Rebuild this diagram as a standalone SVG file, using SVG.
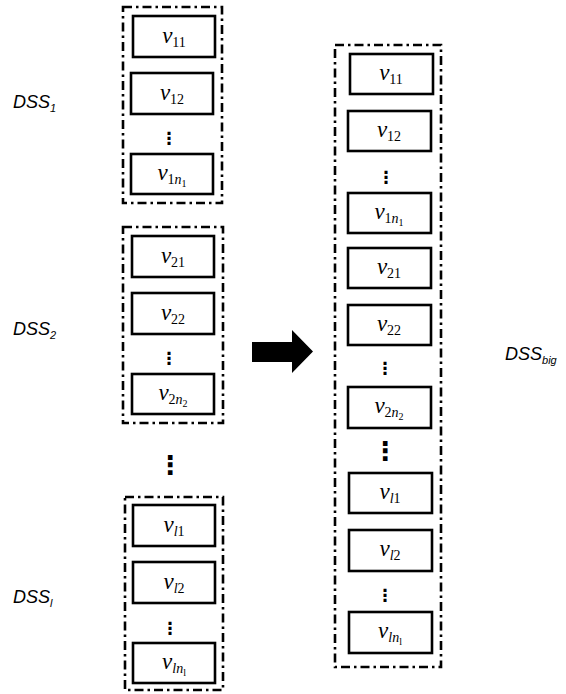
<svg xmlns="http://www.w3.org/2000/svg" width="566" height="694" viewBox="0 0 566 694">
<style>
.grp{fill:none;stroke:#000;stroke-width:2.6;stroke-dasharray:9 4 2.5 4}
.box{fill:#fff;stroke:#000;stroke-width:2.6}
.v{font-family:"Liberation Serif","DejaVu Serif",serif;font-style:italic;font-size:23px;fill:#000;text-anchor:middle}
.s{font-style:normal;font-size:14px}
.si{font-style:italic;font-size:14px}
.ss{font-style:normal;font-size:10px}
.lbl{font-family:"Liberation Sans",Arial,sans-serif;font-style:italic;font-size:18px;fill:#000}
.sub{font-size:11px}
.dots{font-family:"DejaVu Sans",sans-serif;font-size:17px;font-weight:bold;fill:#000;text-anchor:middle}
.bdots{font-family:"DejaVu Sans",sans-serif;font-size:26px;font-weight:bold;fill:#000;text-anchor:middle}
</style>
<rect width="566" height="694" fill="#fff"/>
<g id="dss1">
<rect class="grp" x="123" y="7" width="99" height="196"/>
<text class="lbl" x="13" y="108">DSS<tspan class="sub" dy="4">1</tspan></text>
<g id="g1v11"><rect class="box" x="133" y="16" width="82" height="41"/><text class="v" x="174" y="43">v<tspan class="s" dy="4">11</tspan></text></g>
<g id="g1v12"><rect class="box" x="131" y="73" width="82" height="41"/><text class="v" x="172" y="100">v<tspan class="s" dy="4">12</tspan></text></g>
<text class="dots" x="169" y="144">⋮</text>
<g id="g1v1n"><rect class="box" x="131" y="154" width="82" height="40"/><text class="v" x="172" y="180">v<tspan class="s" dy="4">1</tspan><tspan class="si">n</tspan><tspan class="ss" dy="3">1</tspan></text></g>
</g>
<g id="dss2">
<rect class="grp" x="123" y="227" width="100" height="196"/>
<text class="lbl" x="13" y="335">DSS<tspan class="sub" dy="4">2</tspan></text>
<g id="g2v21"><rect class="box" x="132" y="236" width="82" height="41"/><text class="v" x="173" y="263">v<tspan class="s" dy="4">21</tspan></text></g>
<g id="g2v22"><rect class="box" x="132" y="293" width="82" height="41"/><text class="v" x="173" y="320">v<tspan class="s" dy="4">22</tspan></text></g>
<text class="dots" x="169" y="364">⋮</text>
<g id="g2v2n"><rect class="box" x="132" y="374" width="82" height="40"/><text class="v" x="173" y="400">v<tspan class="s" dy="4">2</tspan><tspan class="si">n</tspan><tspan class="ss" dy="3">2</tspan></text></g>
</g>
<text class="bdots" x="170" y="474">⋮</text>
<g id="dssl">
<rect class="grp" x="125" y="497" width="98" height="193"/>
<text class="lbl" x="13" y="603">DSS<tspan class="sub" dy="4">l</tspan></text>
<g id="glv1"><rect class="box" x="133" y="505" width="82" height="41"/><text class="v" x="174" y="532">v<tspan class="si" dy="4">l</tspan><tspan class="s">1</tspan></text></g>
<g id="glv2"><rect class="box" x="133" y="562" width="82" height="41"/><text class="v" x="174" y="589">v<tspan class="si" dy="4">l</tspan><tspan class="s">2</tspan></text></g>
<text class="dots" x="170" y="634">⋮</text>
<g id="glvn"><rect class="box" x="133" y="643" width="82" height="40"/><text class="v" x="174" y="669">v<tspan class="si" dy="4">ln</tspan><tspan class="ss" dy="3" font-style="italic">l</tspan></text></g>
</g>
<g id="connectors">
<path d="M252 342 H292 V330 L313 351.5 L292 373 V362 H252 Z" fill="#000"/>
</g>
<g id="dssbig">
<rect class="grp" x="335" y="45" width="106" height="622"/>
<text class="lbl" x="505" y="360">DSS<tspan class="sub" dy="4">big</tspan></text>
<g id="bv11"><rect class="box" x="350" y="54" width="83" height="40"/><text class="v" x="391" y="80">v<tspan class="s" dy="4">11</tspan></text></g>
<g id="bv12"><rect class="box" x="348" y="111" width="83" height="40"/><text class="v" x="389" y="137">v<tspan class="s" dy="4">12</tspan></text></g>
<text class="dots" x="386" y="183">⋮</text>
<g id="bv1n"><rect class="box" x="348" y="193" width="83" height="40"/><text class="v" x="389" y="219">v<tspan class="s" dy="4">1</tspan><tspan class="si">n</tspan><tspan class="ss" dy="3">1</tspan></text></g>
<g id="bv21"><rect class="box" x="348" y="248" width="83" height="40"/><text class="v" x="389" y="274">v<tspan class="s" dy="4">21</tspan></text></g>
<g id="bv22"><rect class="box" x="348" y="305" width="83" height="40"/><text class="v" x="389" y="331">v<tspan class="s" dy="4">22</tspan></text></g>
<text class="dots" x="385" y="374">⋮</text>
<g id="bv2n"><rect class="box" x="348" y="387" width="83" height="41"/><text class="v" x="389" y="413">v<tspan class="s" dy="4">2</tspan><tspan class="si">n</tspan><tspan class="ss" dy="3">2</tspan></text></g>
<text class="bdots" x="385" y="460">⋮</text>
<g id="bvl1"><rect class="box" x="349" y="473" width="83" height="40"/><text class="v" x="390" y="499">v<tspan class="si" dy="4">l</tspan><tspan class="s">1</tspan></text></g>
<g id="bvl2"><rect class="box" x="349" y="530" width="83" height="41"/><text class="v" x="390" y="556">v<tspan class="si" dy="4">l</tspan><tspan class="s">2</tspan></text></g>
<text class="dots" x="385" y="601">⋮</text>
<g id="bvln"><rect class="box" x="349" y="612" width="83" height="41"/><text class="v" x="390" y="638">v<tspan class="si" dy="4">ln</tspan><tspan class="ss" dy="3" font-style="italic">l</tspan></text></g>
</g>
</svg>
